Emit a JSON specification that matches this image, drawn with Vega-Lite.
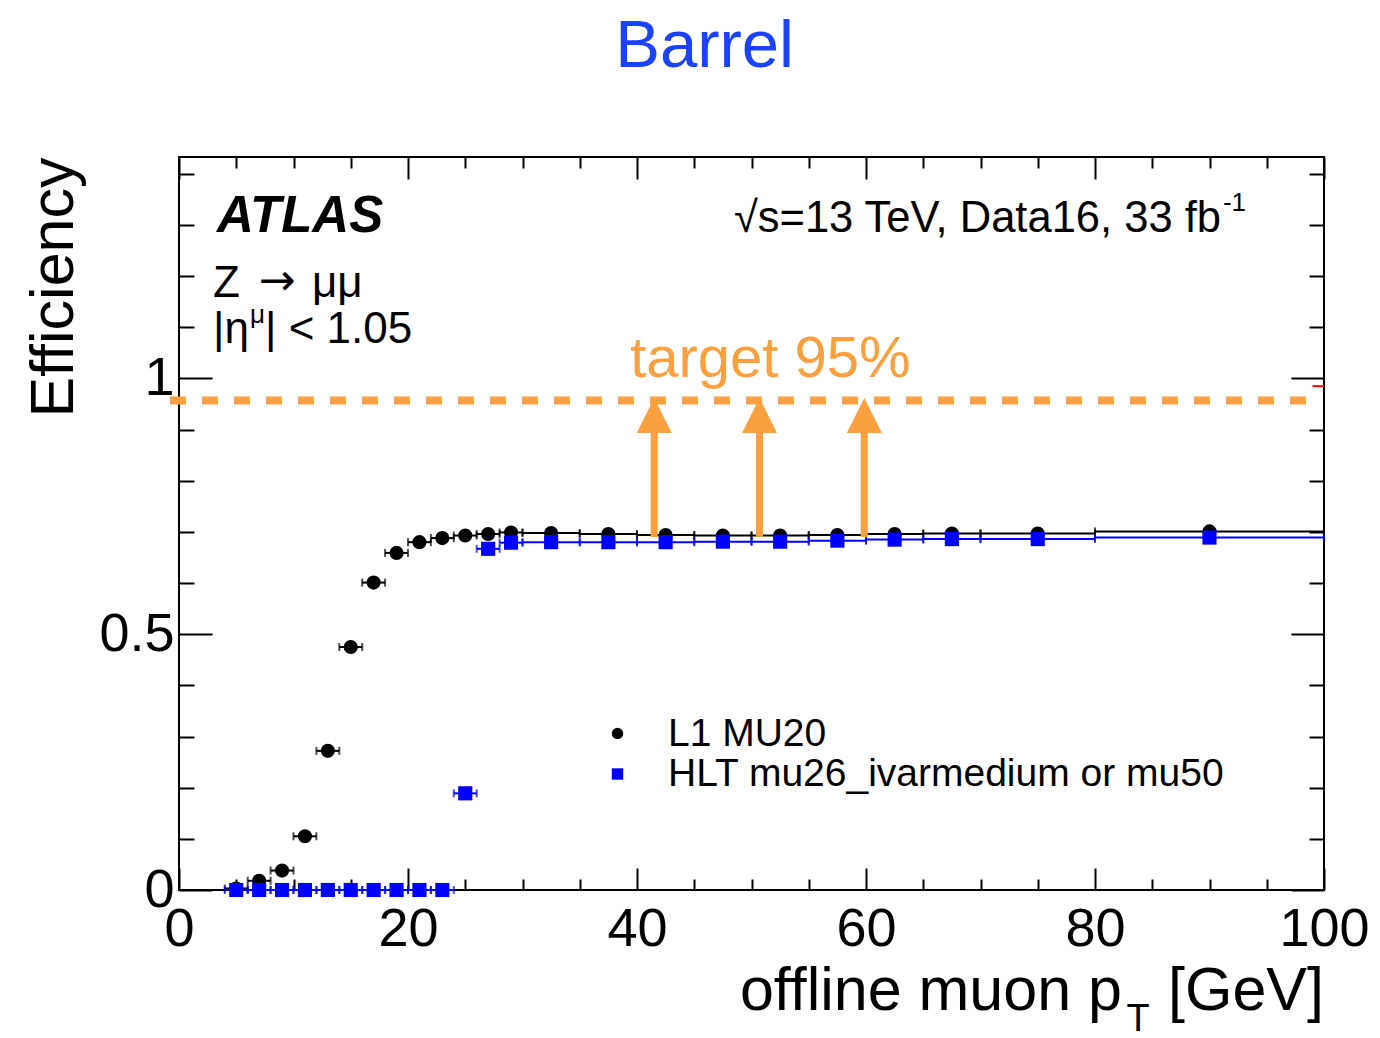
{
  "$schema": "https://vega.github.io/schema/vega-lite/v6.json",
  "width": 1145,
  "height": 733,
  "autosize": "none",
  "padding": {"left": 179, "top": 157, "right": 56, "bottom": 148},
  "background": "white",
  "config": {
    "view": {"stroke": "#000000", "strokeWidth": 2},
    "font": "Liberation Sans"
  },
  "datasets": {
    "eff": [
      {"trigger": "L1 MU20", "pt": 5, "lo": 4, "hi": 6, "eff": 0.003},
      {"trigger": "L1 MU20", "pt": 7, "lo": 6, "hi": 8, "eff": 0.018},
      {"trigger": "L1 MU20", "pt": 9, "lo": 8, "hi": 10, "eff": 0.038},
      {"trigger": "L1 MU20", "pt": 11, "lo": 10, "hi": 12, "eff": 0.105},
      {"trigger": "L1 MU20", "pt": 13, "lo": 12, "hi": 14, "eff": 0.272},
      {"trigger": "L1 MU20", "pt": 15, "lo": 14, "hi": 16, "eff": 0.475},
      {"trigger": "L1 MU20", "pt": 17, "lo": 16, "hi": 18, "eff": 0.601},
      {"trigger": "L1 MU20", "pt": 19, "lo": 18, "hi": 20, "eff": 0.659},
      {"trigger": "L1 MU20", "pt": 21, "lo": 20, "hi": 22, "eff": 0.680},
      {"trigger": "L1 MU20", "pt": 23, "lo": 22, "hi": 24, "eff": 0.688},
      {"trigger": "L1 MU20", "pt": 25, "lo": 24, "hi": 26, "eff": 0.693},
      {"trigger": "L1 MU20", "pt": 27, "lo": 26, "hi": 28, "eff": 0.696},
      {"trigger": "L1 MU20", "pt": 29, "lo": 28, "hi": 30, "eff": 0.699},
      {"trigger": "L1 MU20", "pt": 32.5, "lo": 30, "hi": 35, "eff": 0.698},
      {"trigger": "L1 MU20", "pt": 37.5, "lo": 35, "hi": 40, "eff": 0.696},
      {"trigger": "L1 MU20", "pt": 42.5, "lo": 40, "hi": 45, "eff": 0.694},
      {"trigger": "L1 MU20", "pt": 47.5, "lo": 45, "hi": 50, "eff": 0.693},
      {"trigger": "L1 MU20", "pt": 52.5, "lo": 50, "hi": 55, "eff": 0.693},
      {"trigger": "L1 MU20", "pt": 57.5, "lo": 55, "hi": 60, "eff": 0.694},
      {"trigger": "L1 MU20", "pt": 62.5, "lo": 60, "hi": 65, "eff": 0.696},
      {"trigger": "L1 MU20", "pt": 67.5, "lo": 65, "hi": 70, "eff": 0.697},
      {"trigger": "L1 MU20", "pt": 75, "lo": 70, "hi": 80, "eff": 0.697},
      {"trigger": "L1 MU20", "pt": 90, "lo": 80, "hi": 100, "eff": 0.701},
      {"trigger": "HLT mu26_ivarmedium or mu50", "pt": 5, "lo": 4, "hi": 6, "eff": 0},
      {"trigger": "HLT mu26_ivarmedium or mu50", "pt": 7, "lo": 6, "hi": 8, "eff": 0},
      {"trigger": "HLT mu26_ivarmedium or mu50", "pt": 9, "lo": 8, "hi": 10, "eff": 0},
      {"trigger": "HLT mu26_ivarmedium or mu50", "pt": 11, "lo": 10, "hi": 12, "eff": 0},
      {"trigger": "HLT mu26_ivarmedium or mu50", "pt": 13, "lo": 12, "hi": 14, "eff": 0},
      {"trigger": "HLT mu26_ivarmedium or mu50", "pt": 15, "lo": 14, "hi": 16, "eff": 0},
      {"trigger": "HLT mu26_ivarmedium or mu50", "pt": 17, "lo": 16, "hi": 18, "eff": 0},
      {"trigger": "HLT mu26_ivarmedium or mu50", "pt": 19, "lo": 18, "hi": 20, "eff": 0},
      {"trigger": "HLT mu26_ivarmedium or mu50", "pt": 21, "lo": 20, "hi": 22, "eff": 0},
      {"trigger": "HLT mu26_ivarmedium or mu50", "pt": 23, "lo": 22, "hi": 24, "eff": 0},
      {"trigger": "HLT mu26_ivarmedium or mu50", "pt": 25, "lo": 24, "hi": 26, "eff": 0.189},
      {"trigger": "HLT mu26_ivarmedium or mu50", "pt": 27, "lo": 26, "hi": 28, "eff": 0.667},
      {"trigger": "HLT mu26_ivarmedium or mu50", "pt": 29, "lo": 28, "hi": 30, "eff": 0.679},
      {"trigger": "HLT mu26_ivarmedium or mu50", "pt": 32.5, "lo": 30, "hi": 35, "eff": 0.680},
      {"trigger": "HLT mu26_ivarmedium or mu50", "pt": 37.5, "lo": 35, "hi": 40, "eff": 0.680},
      {"trigger": "HLT mu26_ivarmedium or mu50", "pt": 42.5, "lo": 40, "hi": 45, "eff": 0.680},
      {"trigger": "HLT mu26_ivarmedium or mu50", "pt": 47.5, "lo": 45, "hi": 50, "eff": 0.681},
      {"trigger": "HLT mu26_ivarmedium or mu50", "pt": 52.5, "lo": 50, "hi": 55, "eff": 0.681},
      {"trigger": "HLT mu26_ivarmedium or mu50", "pt": 57.5, "lo": 55, "hi": 60, "eff": 0.683},
      {"trigger": "HLT mu26_ivarmedium or mu50", "pt": 62.5, "lo": 60, "hi": 65, "eff": 0.685},
      {"trigger": "HLT mu26_ivarmedium or mu50", "pt": 67.5, "lo": 65, "hi": 70, "eff": 0.686},
      {"trigger": "HLT mu26_ivarmedium or mu50", "pt": 75, "lo": 70, "hi": 80, "eff": 0.686},
      {"trigger": "HLT mu26_ivarmedium or mu50", "pt": 90, "lo": 80, "hi": 100, "eff": 0.689}
    ],
    "arrows": [
      {"x": 41.5, "base": 0.690, "tip": 0.962},
      {"x": 50.7, "base": 0.690, "tip": 0.962},
      {"x": 59.85, "base": 0.690, "tip": 0.962}
    ],
    "one": [{}]
  },
  "layer": [
    {
      "data": {"name": "eff"},
      "transform": [{"filter": "datum.trigger === 'L1 MU20'"}],
      "mark": {"type": "rule", "strokeWidth": 2, "color": "#000000"},
      "encoding": {
        "x": {
          "field": "lo", "type": "quantitative",
          "scale": {"domain": [0, 100], "nice": false, "zero": false},
          "axis": {
            "orient": "bottom",
            "values": [0, 5, 10, 15, 20, 25, 30, 35, 40, 45, 50, 55, 60, 65, 70, 75, 80, 85, 90, 95, 100],
            "tickSize": {"condition": {"test": "datum.value % 20 === 0", "value": -22}, "value": -11},
            "tickWidth": 2, "tickColor": "#000000",
            "domain": false, "grid": false,
            "labelExpr": "datum.value % 20 === 0 ? format(datum.value, 'd') : ''",
            "labelFont": "Liberation Sans", "labelFontSize": 54, "labelColor": "#000000",
            "labelPadding": 34, "labelFlush": false, "labelOverlap": false, "labelBound": false,
            "title": null
          }
        },
        "x2": {"field": "hi"},
        "y": {
          "field": "eff", "type": "quantitative",
          "scale": {"domain": [0, 1.433], "nice": false},
          "axis": {
            "orient": "left",
            "values": [0, 0.1, 0.2, 0.3, 0.4, 0.5, 0.6, 0.7, 0.8, 0.9, 1, 1.1, 1.2, 1.3, 1.4],
            "tickSize": {"condition": {"test": "datum.value === 0 || datum.value === 0.5 || datum.value === 1", "value": -33}, "value": -15},
            "tickWidth": 2, "tickColor": "#000000",
            "domain": false, "grid": false,
            "labelExpr": "datum.value === 0 ? '0' : datum.value === 0.5 ? '0.5' : datum.value === 1 ? '1' : ''",
            "labelFont": "Liberation Sans", "labelFontSize": 54, "labelColor": "#000000",
            "labelPadding": 38, "labelFlush": false, "labelOverlap": false, "labelBound": false,
            "title": "Efficiency",
            "titleFont": "Liberation Sans", "titleFontSize": 61, "titleFontWeight": "normal", "titleColor": "#000000",
            "titleAngle": -90, "titleAlign": "right", "titleBaseline": "alphabetic", "titleAnchor": "end",
            "titleX": -107, "titleY": 0
          }
        }
      }
    },
    {
      "data": {"name": "eff"},
      "transform": [{"filter": "datum.trigger === 'L1 MU20'"}],
      "mark": {"type": "tick", "orient": "vertical", "size": 8, "thickness": 2, "color": "#000000"},
      "encoding": {
        "x": {
          "field": "lo", "type": "quantitative",
          "axis": {
            "orient": "top",
            "values": [0, 5, 10, 15, 20, 25, 30, 35, 40, 45, 50, 55, 60, 65, 70, 75, 80, 85, 90, 95, 100],
            "tickSize": {"condition": {"test": "datum.value % 20 === 0", "value": -22}, "value": -11},
            "tickWidth": 2, "tickColor": "#000000",
            "domain": false, "grid": false, "labels": false, "title": null
          }
        },
        "y": {
          "field": "eff", "type": "quantitative",
          "axis": {
            "orient": "right",
            "values": [0, 0.1, 0.2, 0.3, 0.4, 0.5, 0.6, 0.7, 0.8, 0.9, 1, 1.1, 1.2, 1.3, 1.4],
            "tickSize": {"condition": {"test": "datum.value === 0 || datum.value === 0.5 || datum.value === 1", "value": -33}, "value": -15},
            "tickWidth": 2, "tickColor": "#000000",
            "domain": false, "grid": false, "labels": false, "title": null
          }
        }
      }
    },
    {
      "data": {"name": "eff"},
      "transform": [{"filter": "datum.trigger === 'L1 MU20'"}],
      "mark": {"type": "tick", "orient": "vertical", "size": 8, "thickness": 2, "color": "#000000"},
      "encoding": {
        "x": {"field": "hi", "type": "quantitative", "axis": null},
        "y": {"field": "eff", "type": "quantitative", "axis": null}
      }
    },
    {
      "data": {"name": "eff"},
      "transform": [{"filter": "datum.trigger !== 'L1 MU20'"}],
      "mark": {"type": "rule", "strokeWidth": 2, "color": "#0000ff"},
      "encoding": {
        "x": {"field": "lo", "type": "quantitative", "axis": null},
        "x2": {"field": "hi"},
        "y": {"field": "eff", "type": "quantitative", "axis": null}
      }
    },
    {
      "data": {"name": "eff"},
      "transform": [{"filter": "datum.trigger !== 'L1 MU20'"}],
      "mark": {"type": "tick", "orient": "vertical", "size": 8, "thickness": 2, "color": "#0000ff"},
      "encoding": {
        "x": {"field": "lo", "type": "quantitative", "axis": null},
        "y": {"field": "eff", "type": "quantitative", "axis": null}
      }
    },
    {
      "data": {"name": "eff"},
      "transform": [{"filter": "datum.trigger !== 'L1 MU20'"}],
      "mark": {"type": "tick", "orient": "vertical", "size": 8, "thickness": 2, "color": "#0000ff"},
      "encoding": {
        "x": {"field": "hi", "type": "quantitative", "axis": null},
        "y": {"field": "eff", "type": "quantitative", "axis": null}
      }
    },
    {
      "data": {"name": "eff"},
      "mark": {"type": "point", "filled": true, "opacity": 1, "size": 200, "strokeWidth": 0},
      "encoding": {
        "x": {"field": "pt", "type": "quantitative", "axis": null},
        "y": {"field": "eff", "type": "quantitative", "axis": null},
        "color": {
          "field": "trigger", "type": "nominal",
          "scale": {"domain": ["L1 MU20", "HLT mu26_ivarmedium or mu50"], "range": ["#000000", "#0000ff"]},
          "legend": {
            "title": null, "orient": "none", "legendX": 419, "legendY": 557, "padding": 0,
            "symbolSize": 130, "symbolStrokeWidth": 0,
            "labelFont": "Liberation Sans", "labelFontSize": 39, "labelColor": "#000000",
            "labelOffset": 31, "labelLimit": 2000, "rowPadding": 0.5
          }
        },
        "shape": {
          "field": "trigger", "type": "nominal",
          "scale": {"domain": ["L1 MU20", "HLT mu26_ivarmedium or mu50"], "range": ["circle", "square"]},
          "legend": {
            "title": null, "orient": "none", "legendX": 419, "legendY": 557, "padding": 0,
            "symbolSize": 130, "symbolStrokeWidth": 0,
            "labelFont": "Liberation Sans", "labelFontSize": 39, "labelColor": "#000000",
            "labelOffset": 31, "labelLimit": 2000, "rowPadding": 0.5
          }
        }
      }
    },
    {
      "data": {"name": "one"},
      "mark": {"type": "rule", "color": "#fba03e", "strokeWidth": 8, "strokeDash": [16, 16], "strokeCap": "butt"},
      "encoding": {
        "x": {"datum": -0.79, "axis": null},
        "x2": {"datum": 98.7},
        "y": {"datum": 0.957, "axis": null}
      }
    },
    {
      "data": {"name": "arrows"},
      "mark": {"type": "rule", "color": "#fba03e", "strokeWidth": 7, "strokeCap": "butt"},
      "encoding": {
        "x": {"field": "x", "type": "quantitative", "axis": null},
        "y": {"field": "base", "type": "quantitative", "axis": null},
        "y2": {"datum": 0.9}
      }
    },
    {
      "data": {"name": "arrows"},
      "mark": {"type": "point", "shape": "M0,0L1,2L-1,2Z", "filled": true, "color": "#fba03e", "opacity": 1, "size": 1225, "strokeWidth": 0},
      "encoding": {
        "x": {"field": "x", "type": "quantitative", "axis": null},
        "y": {"field": "tip", "type": "quantitative", "axis": null}
      }
    },
    {
      "data": {"name": "one"},
      "mark": {"type": "rule", "color": "#ff0000", "strokeWidth": 2},
      "encoding": {
        "x": {"datum": 99.0, "axis": null},
        "x2": {"datum": 100},
        "y": {"datum": 0.985, "axis": null}
      }
    },
    {
      "data": {"name": "one"},
      "mark": {"type": "text", "text": "Barrel", "font": "Liberation Sans", "fontSize": 67, "color": "#1a42ff", "align": "center", "baseline": "alphabetic"},
      "encoding": {"x": {"datum": 45.9, "axis": null}, "y": {"datum": 1.609, "axis": null}}
    },
    {
      "data": {"name": "one"},
      "mark": {"type": "text", "text": "ATLAS", "font": "Liberation Sans", "fontSize": 51, "fontWeight": "bold", "fontStyle": "italic", "color": "#000000", "align": "left", "baseline": "alphabetic"},
      "encoding": {"x": {"datum": 3.32, "axis": null}, "y": {"datum": 1.286, "axis": null}}
    },
    {
      "data": {"name": "one"},
      "mark": {"type": "text", "text": "√s=13 TeV, Data16, 33 fb", "font": "Liberation Sans", "fontSize": 43.5, "color": "#000000", "align": "right", "baseline": "alphabetic"},
      "encoding": {"x": {"datum": 91.0, "axis": null}, "y": {"datum": 1.286, "axis": null}}
    },
    {
      "data": {"name": "one"},
      "mark": {"type": "text", "text": "-1", "font": "Liberation Sans", "fontSize": 26, "color": "#000000", "align": "left", "baseline": "alphabetic", "dx": 2, "dy": -21},
      "encoding": {"x": {"datum": 91.0, "axis": null}, "y": {"datum": 1.286, "axis": null}}
    },
    {
      "data": {"name": "one"},
      "mark": {"type": "text", "text": "Z", "font": "Liberation Sans", "fontSize": 44, "color": "#000000", "align": "left", "baseline": "alphabetic"},
      "encoding": {"x": {"datum": 2.97, "axis": null}, "y": {"datum": 1.159, "axis": null}}
    },
    {
      "data": {"name": "one"},
      "mark": {"type": "text", "text": "→", "font": "DejaVu Sans", "fontSize": 44, "color": "#000000", "align": "center", "baseline": "alphabetic", "dx": 64, "dy": -2},
      "encoding": {"x": {"datum": 2.97, "axis": null}, "y": {"datum": 1.159, "axis": null}}
    },
    {
      "data": {"name": "one"},
      "mark": {"type": "text", "text": "μμ", "font": "Liberation Sans", "fontSize": 44, "color": "#000000", "align": "left", "baseline": "alphabetic", "dx": 99},
      "encoding": {"x": {"datum": 2.97, "axis": null}, "y": {"datum": 1.159, "axis": null}}
    },
    {
      "data": {"name": "one"},
      "mark": {"type": "text", "text": "|η", "font": "Liberation Sans", "fontSize": 44, "color": "#000000", "align": "left", "baseline": "alphabetic"},
      "encoding": {"x": {"datum": 2.97, "axis": null}, "y": {"datum": 1.069, "axis": null}}
    },
    {
      "data": {"name": "one"},
      "mark": {"type": "text", "text": "μ", "font": "Liberation Sans", "fontSize": 26, "color": "#000000", "align": "left", "baseline": "alphabetic", "dx": 37, "dy": -20},
      "encoding": {"x": {"datum": 2.97, "axis": null}, "y": {"datum": 1.069, "axis": null}}
    },
    {
      "data": {"name": "one"},
      "mark": {"type": "text", "text": "| < 1.05", "font": "Liberation Sans", "fontSize": 44, "color": "#000000", "align": "left", "baseline": "alphabetic", "dx": 52},
      "encoding": {"x": {"datum": 2.97, "axis": null}, "y": {"datum": 1.069, "axis": null}}
    },
    {
      "data": {"name": "one"},
      "mark": {"type": "text", "text": "target 95%", "font": "Liberation Sans", "fontSize": 58, "color": "#fba03e", "align": "left", "baseline": "alphabetic"},
      "encoding": {"x": {"datum": 39.4, "axis": null}, "y": {"datum": 1.003, "axis": null}}
    },
    {
      "data": {"name": "one"},
      "mark": {"type": "text", "text": "offline muon p", "font": "Liberation Sans", "fontSize": 61, "color": "#000000", "align": "right", "baseline": "alphabetic", "dx": -202},
      "encoding": {"x": {"datum": 100, "axis": null}, "y": {"datum": -0.2346, "axis": null}}
    },
    {
      "data": {"name": "one"},
      "mark": {"type": "text", "text": "T", "font": "Liberation Sans", "fontSize": 38, "color": "#000000", "align": "center", "baseline": "alphabetic", "dx": -186, "dy": 21},
      "encoding": {"x": {"datum": 100, "axis": null}, "y": {"datum": -0.2346, "axis": null}}
    },
    {
      "data": {"name": "one"},
      "mark": {"type": "text", "text": "[GeV]", "font": "Liberation Sans", "fontSize": 61, "color": "#000000", "align": "right", "baseline": "alphabetic"},
      "encoding": {"x": {"datum": 100, "axis": null}, "y": {"datum": -0.2346, "axis": null}}
    }
  ],
  "resolve": {"axis": {"x": "independent", "y": "independent"}}
}
